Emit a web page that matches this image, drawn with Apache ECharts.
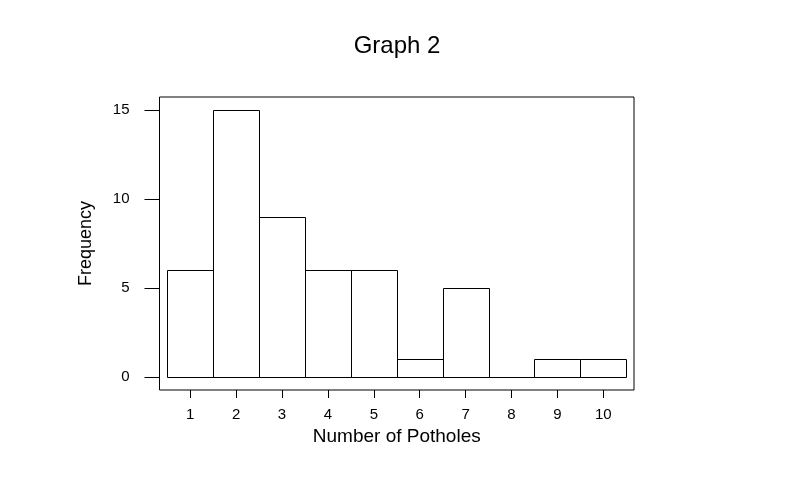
<!DOCTYPE html>
<html>
<head>
<meta charset="utf-8">
<script src="https://cdn.jsdelivr.net/npm/echarts@6/dist/echarts.min.js"></script>
<style>html,body{margin:0;padding:0;background:#fff}#c{width:794px;height:488px}</style>
</head>
<body>
<div id="c"></div>
<script>
const potholes = [1, 2, 3, 4, 5, 6, 7, 8, 9, 10];
const frequency = [6, 15, 9, 6, 6, 1, 5, 0, 1, 1];
const xTicks = [1, 2, 3, 4, 5, 6, 7, 8, 9, 10];
const yTicks = [0, 5, 10, 15];

const chart = echarts.init(document.getElementById('c'), null, {renderer: 'canvas'});
const font = 'Arial, "Liberation Sans", sans-serif';
chart.setOption({
  animation: false,
  backgroundColor: '#ffffff',
  title: {
    text: 'Graph 2', left: 'center', top: 29,
    textStyle: {fontFamily: font, fontWeight: 'normal', fontSize: 24, color: '#000'}
  },
  grid: {left: 159.5, right: 160, top: 97, bottom: 98, show: true, borderColor: '#000', borderWidth: 1, backgroundColor: 'transparent'},
  xAxis: {
    type: 'value', min: 0.33, max: 10.67,
    name: 'Number of Potholes', nameLocation: 'middle', nameGap: 36,
    nameTextStyle: {fontFamily: font, fontSize: 19, color: '#000'},
    axisLine: {show: false, onZero: false},
    splitLine: {show: false},
    axisTick: {show: true, inside: false, length: 8, customValues: xTicks, lineStyle: {color: '#000'}},
    axisLabel: {customValues: xTicks, margin: 17, fontFamily: font, fontSize: 15, color: '#000'}
  },
  yAxis: {
    type: 'value', min: -0.73, max: 15.73,
    name: 'Frequency', nameLocation: 'middle', nameGap: 64, nameRotate: 90,
    nameTextStyle: {fontFamily: font, fontSize: 18, color: '#000'},
    axisLine: {show: false, onZero: false},
    splitLine: {show: false},
    axisTick: {show: true, inside: false, length: 15, customValues: yTicks, lineStyle: {color: '#000'}},
    axisLabel: {customValues: yTicks, margin: 30, fontFamily: font, fontSize: 15, color: '#000'}
  },
  series: [{
    type: 'custom',
    data: potholes.map((p, i) => [p, frequency[i]]),
    renderItem: function (params, api) {
      const x = api.value(0), y = api.value(1);
      const p0 = api.coord([x - 0.5, y]);
      const p1 = api.coord([x + 0.5, 0]);
      const x0 = Math.round(p0[0]) + 0.5, x1 = Math.round(p1[0]) + 0.5;
      const y0 = Math.round(p0[1]) + 0.5, y1 = Math.round(p1[1]) + 0.5;
      return {
        type: 'rect',
        shape: {x: x0, y: y0, width: x1 - x0, height: y1 - y0},
        style: {fill: 'transparent', stroke: '#000', lineWidth: 1}
      };
    }
  }]
});
</script>
</body>
</html>
